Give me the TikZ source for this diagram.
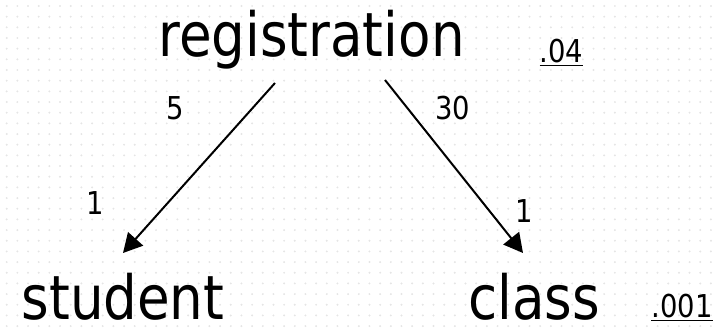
\documentclass[tikz,border=0pt]{standalone}
\usepackage{fontspec}
\setmainfont{DejaVu Sans}[FakeStretch=0.87]
\usepackage{xcolor}
\usetikzlibrary{arrows.meta}
\definecolor{dotgray}{gray}{0.9}
\newcommand{\entfont}{\fontsize{61}{61}\selectfont}
\newcommand{\numfont}{\fontsize{31.5}{32}\selectfont}

\begin{document}
\begin{tikzpicture}[x=1pt,y=-1pt,
	entity/.style={font=\entfont,inner sep=0pt,text depth=0pt,anchor=base},
	mult/.style={font=\numfont,inner sep=0pt,anchor=base},
	link/.style={line width=2pt,-{Triangle[length=19pt,width=20pt]}}]
	\useasboundingbox (0,0) rectangle (716,328);
	
	% dotted slide background
	\foreach \i in {0,1,...,66}{
		\foreach \j in {0,1,...,30}{
			\fill[dotgray] (6.7+\i*10.67,6+\j*10.67) circle (1.1);
		}
	}
	
	\node[entity] (registration) at (311.5,57) {registration};
	\node[entity] (student) at (123,320) {student};
	\node[entity] (class) at (534,320) {class};
	
	\node[mult] (selreg) at (561.5,63) {\underline{.04}};
	\node[mult] (selclass) at (682,318) {\underline{.001}};
	
	\coordinate (regL) at (275,83);
	\coordinate (regR) at (385,80);
	\coordinate (stuTop) at (123,253);
	\coordinate (clsTop) at (523,253);
	
	\draw[link] (regL) -- (stuTop);
	\draw[link] (regR) -- (clsTop);
	
	\node[mult] (mstuFrom) at (175,120) {5};
	\node[mult] (mclsFrom) at (452.5,120) {30};
	\node[mult] (mstuTo) at (95,215) {1};
	\node[mult] (mclsTo) at (524.5,223) {1};
\end{tikzpicture}
\end{document}
